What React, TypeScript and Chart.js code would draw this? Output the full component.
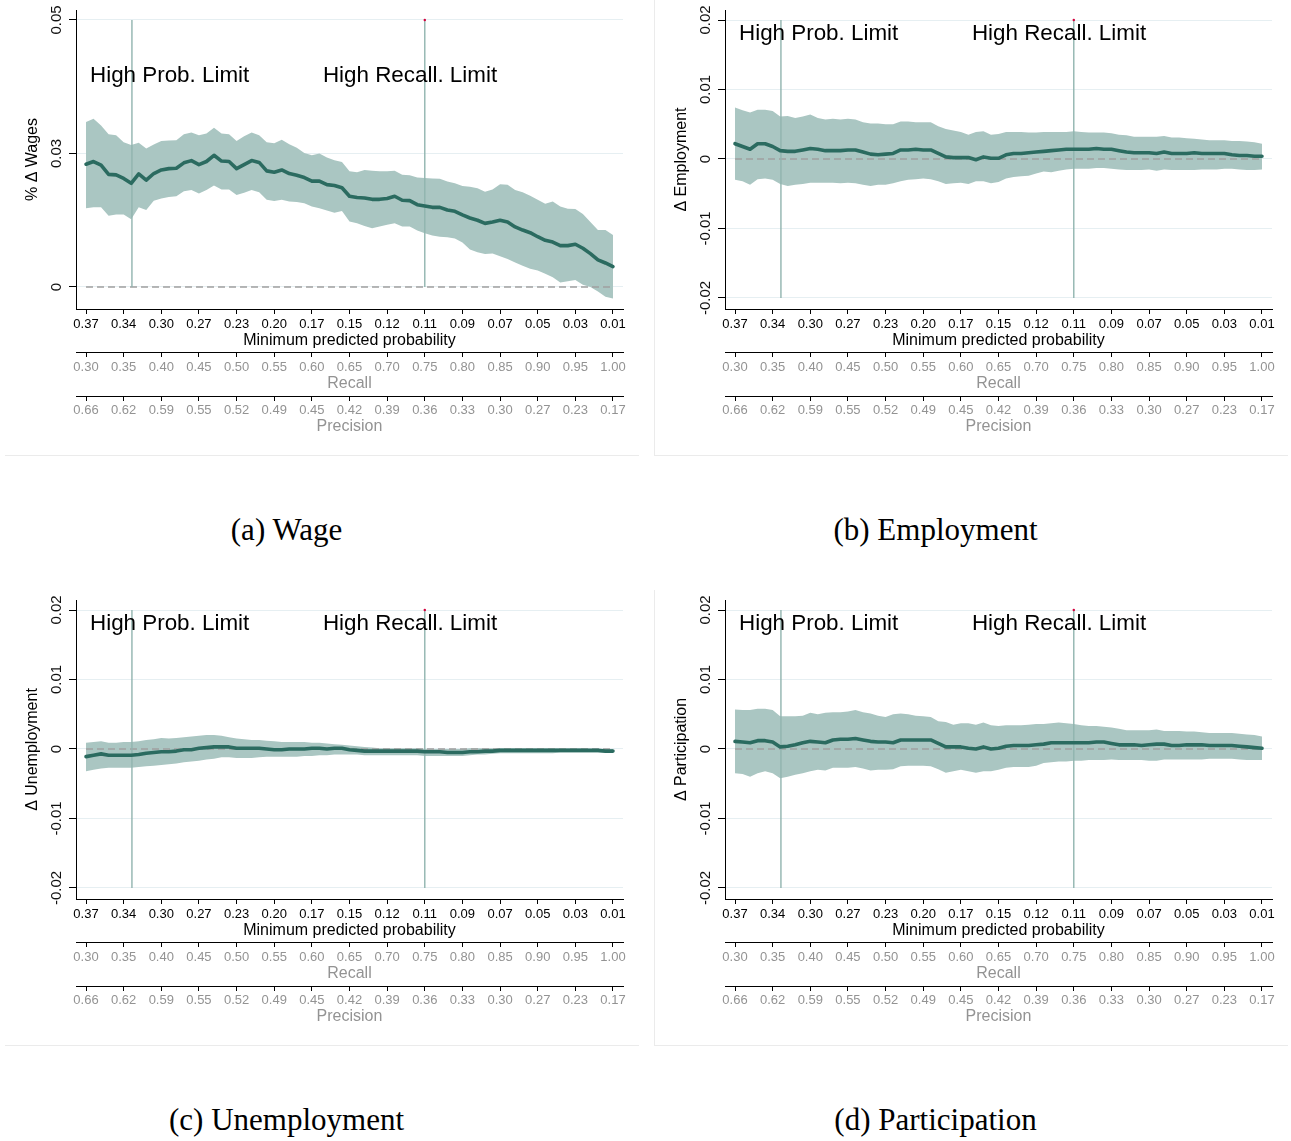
import React, { useEffect, useRef } from "react";
import { Chart, registerables } from "chart.js";

Chart.register(...registerables);

const FONT = "'Liberation Sans', Arial, Helvetica, sans-serif";

// x positions (recall grid)
const RECALL = [
  0.30, 0.31, 0.32, 0.33, 0.34, 0.35, 0.36, 0.37, 0.38, 0.39,
  0.40, 0.41, 0.42, 0.43, 0.44, 0.45, 0.46, 0.47, 0.48, 0.49,
  0.50, 0.51, 0.52, 0.53, 0.54, 0.55, 0.56, 0.57, 0.58, 0.59,
  0.60, 0.61, 0.62, 0.63, 0.64, 0.65, 0.66, 0.67, 0.68, 0.69,
  0.70, 0.71, 0.72, 0.73, 0.74, 0.75, 0.76, 0.77, 0.78, 0.79,
  0.80, 0.81, 0.82, 0.83, 0.84, 0.85, 0.86, 0.87, 0.88, 0.89,
  0.90, 0.91, 0.92, 0.93, 0.94, 0.95, 0.96, 0.97, 0.98, 0.99,
  1.00,
];

const RECALL_TICK_VALUES = [0.30, 0.35, 0.40, 0.45, 0.50, 0.55, 0.60, 0.65, 0.70, 0.75, 0.80, 0.85, 0.90, 0.95, 1.00];
const PROB_TICK_LABELS = ["0.37", "0.34", "0.30", "0.27", "0.23", "0.20", "0.17", "0.15", "0.12", "0.11", "0.09", "0.07", "0.05", "0.03", "0.01"];
const RECALL_TICK_LABELS = ["0.30", "0.35", "0.40", "0.45", "0.50", "0.55", "0.60", "0.65", "0.70", "0.75", "0.80", "0.85", "0.90", "0.95", "1.00"];
const PRECISION_TICK_LABELS = ["0.66", "0.62", "0.59", "0.55", "0.52", "0.49", "0.45", "0.42", "0.39", "0.36", "0.33", "0.30", "0.27", "0.23", "0.17"];

const Y_TICKS_WAGE = [0, 0.03, 0.06];
const Y_LABELS_WAGE = ["0", "0.03", "0.05"];
const Y_TICKS_DELTA = [-0.02, -0.01, 0, 0.01, 0.02];
const Y_LABELS_DELTA = ["-0.02", "-0.01", "0", "0.01", "0.02"];

const LIMIT_LABELS = ["High Prob. Limit", "High Recall. Limit"];
const LIMIT_X = [0.361, 0.75];
const LIMIT_LABEL_X = [0.3053, 0.6147];

// (a) Wage
const WAGE_MEAN = [
  0.0276, 0.0282, 0.0274, 0.0253, 0.0252, 0.0244, 0.0233, 0.0254, 0.0240, 0.0255,
  0.0263, 0.0266, 0.0267, 0.0279, 0.0284, 0.0275, 0.0282, 0.0296, 0.0283, 0.0282,
  0.0266, 0.0275, 0.0284, 0.0280, 0.0261, 0.0258, 0.0263, 0.0255, 0.0251, 0.0246,
  0.0238, 0.0238, 0.0230, 0.0228, 0.0223, 0.0204, 0.0201, 0.0200, 0.0197, 0.0197,
  0.0199, 0.0204, 0.0195, 0.0194, 0.0185, 0.0182, 0.0179, 0.0179, 0.0173, 0.0170,
  0.0162, 0.0155, 0.0150, 0.0143, 0.0146, 0.0150, 0.0146, 0.0135, 0.0128, 0.0122,
  0.0113, 0.0105, 0.0101, 0.0093, 0.0093, 0.0096, 0.0087, 0.0075, 0.0061, 0.0054,
  0.0046,
];
const WAGE_HI = [
  0.0371, 0.0378, 0.0363, 0.0343, 0.0341, 0.0325, 0.0319, 0.0324, 0.0311, 0.0320,
  0.0328, 0.0329, 0.0330, 0.0343, 0.0347, 0.0341, 0.0345, 0.0358, 0.0345, 0.0343,
  0.0328, 0.0339, 0.0347, 0.0341, 0.0325, 0.0323, 0.0331, 0.0321, 0.0313, 0.0301,
  0.0296, 0.0300, 0.0291, 0.0285, 0.0281, 0.0260, 0.0258, 0.0263, 0.0261, 0.0260,
  0.0260, 0.0261, 0.0252, 0.0251, 0.0246, 0.0245, 0.0244, 0.0243, 0.0237, 0.0233,
  0.0227, 0.0225, 0.0222, 0.0214, 0.0219, 0.0231, 0.0230, 0.0218, 0.0213, 0.0205,
  0.0196, 0.0187, 0.0192, 0.0181, 0.0176, 0.0175, 0.0164, 0.0146, 0.0128, 0.0128,
  0.0117,
];
const WAGE_LO = [
  0.0177, 0.0179, 0.0179, 0.0160, 0.0163, 0.0163, 0.0152, 0.0179, 0.0173, 0.0194,
  0.0199, 0.0202, 0.0204, 0.0215, 0.0218, 0.0210, 0.0218, 0.0228, 0.0219, 0.0219,
  0.0207, 0.0212, 0.0218, 0.0213, 0.0196, 0.0193, 0.0196, 0.0192, 0.0191, 0.0188,
  0.0181, 0.0177, 0.0172, 0.0167, 0.0171, 0.0147, 0.0143, 0.0137, 0.0132, 0.0136,
  0.0140, 0.0143, 0.0136, 0.0136, 0.0127, 0.0121, 0.0116, 0.0113, 0.0112, 0.0109,
  0.0100, 0.0084, 0.0078, 0.0074, 0.0075, 0.0069, 0.0063, 0.0055, 0.0048, 0.0041,
  0.0037, 0.0030, 0.0022, 0.0010, 0.0013, 0.0016, 0.0005, 0.0000, -0.0010, -0.0022,
  -0.0026,
];

// (b) Employment
const EMP_MEAN = [
  0.0022, 0.0018, 0.0014, 0.0022, 0.0022, 0.0018, 0.0012, 0.0011, 0.0011, 0.0013,
  0.0015, 0.0014, 0.0012, 0.0012, 0.0012, 0.0013, 0.0013, 0.0010, 0.0007, 0.0006,
  0.0007, 0.0008, 0.0013, 0.0013, 0.0014, 0.0013, 0.0013, 0.0008, 0.0003, 0.0002,
  0.0002, 0.0002, -0.0001, 0.0003, 0.0001, 0.0001, 0.0006, 0.0008, 0.0008, 0.0009,
  0.0010, 0.0011, 0.0012, 0.0013, 0.0014, 0.0014, 0.0014, 0.0014, 0.0015, 0.0014,
  0.0014, 0.0012, 0.0010, 0.0009, 0.0009, 0.0009, 0.0008, 0.0010, 0.0008, 0.0008,
  0.0008, 0.0009, 0.0008, 0.0008, 0.0008, 0.0008, 0.0006, 0.0005, 0.0005, 0.0004,
  0.0004,
];
const EMP_HI = [
  0.0074, 0.0070, 0.0067, 0.0071, 0.0071, 0.0069, 0.0061, 0.0062, 0.0059, 0.0061,
  0.0064, 0.0059, 0.0057, 0.0058, 0.0057, 0.0058, 0.0057, 0.0053, 0.0051, 0.0051,
  0.0050, 0.0050, 0.0054, 0.0054, 0.0053, 0.0053, 0.0053, 0.0047, 0.0043, 0.0041,
  0.0039, 0.0035, 0.0039, 0.0040, 0.0035, 0.0036, 0.0039, 0.0039, 0.0039, 0.0038,
  0.0038, 0.0039, 0.0039, 0.0039, 0.0039, 0.0040, 0.0039, 0.0038, 0.0038, 0.0038,
  0.0037, 0.0035, 0.0034, 0.0032, 0.0032, 0.0032, 0.0032, 0.0033, 0.0031, 0.0031,
  0.0030, 0.0029, 0.0028, 0.0027, 0.0027, 0.0027, 0.0026, 0.0026, 0.0025, 0.0024,
  0.0022,
];
const EMP_LO = [
  -0.0030, -0.0032, -0.0037, -0.0029, -0.0028, -0.0030, -0.0036, -0.0039, -0.0037, -0.0036,
  -0.0034, -0.0034, -0.0034, -0.0034, -0.0035, -0.0034, -0.0035, -0.0037, -0.0039, -0.0037,
  -0.0037, -0.0035, -0.0032, -0.0030, -0.0029, -0.0028, -0.0029, -0.0032, -0.0036, -0.0035,
  -0.0034, -0.0036, -0.0032, -0.0032, -0.0035, -0.0033, -0.0028, -0.0026, -0.0025, -0.0024,
  -0.0021, -0.0018, -0.0019, -0.0017, -0.0015, -0.0014, -0.0014, -0.0014, -0.0013, -0.0013,
  -0.0014, -0.0015, -0.0016, -0.0016, -0.0016, -0.0015, -0.0017, -0.0015, -0.0016, -0.0016,
  -0.0016, -0.0016, -0.0015, -0.0015, -0.0015, -0.0014, -0.0014, -0.0015, -0.0016, -0.0016,
  -0.0015,
];

// (c) Unemployment
const UNEMP_MEAN = [
  -0.0011, -0.0009, -0.0007, -0.0009, -0.0009, -0.0009, -0.0009, -0.0008, -0.0006, -0.0005,
  -0.0004, -0.0004, -0.0003, -0.0001, -0.0001, 0.0001, 0.0002, 0.0003, 0.0003, 0.0003,
  0.0001, 0.0001, 0.0001, 0.0001, 0.0000, -0.0001, -0.0001, 0.0000, 0.0000, 0.0000,
  0.0001, 0.0001, 0.0000, 0.0001, 0.0001, -0.0001, -0.0002, -0.0003, -0.0003, -0.0003,
  -0.0003, -0.0003, -0.0003, -0.0003, -0.0003, -0.0004, -0.0004, -0.0004, -0.0005, -0.0005,
  -0.0005, -0.0004, -0.0004, -0.0003, -0.0003, -0.0002, -0.0002, -0.0002, -0.0002, -0.0002,
  -0.0002, -0.0002, -0.0002, -0.0002, -0.0002, -0.0002, -0.0002, -0.0002, -0.0002, -0.0003,
  -0.0003,
];
const UNEMP_HI = [
  0.0009, 0.0010, 0.0011, 0.0009, 0.0009, 0.0010, 0.0010, 0.0011, 0.0013, 0.0014,
  0.0016, 0.0015, 0.0016, 0.0017, 0.0018, 0.0019, 0.0020, 0.0020, 0.0019, 0.0017,
  0.0015, 0.0014, 0.0013, 0.0013, 0.0012, 0.0011, 0.0010, 0.0010, 0.0010, 0.0010,
  0.0009, 0.0009, 0.0008, 0.0007, 0.0006, 0.0005, 0.0004, 0.0003, 0.0002, 0.0001,
  0.0001, 0.0001, 0.0001, 0.0001, 0.0001, 0.0000, 0.0000, 0.0000, 0.0000, 0.0000,
  0.0000, 0.0001, 0.0001, 0.0001, 0.0001, 0.0001, 0.0001, 0.0001, 0.0001, 0.0001,
  0.0001, 0.0001, 0.0001, 0.0001, 0.0001, 0.0001, 0.0001, 0.0000, 0.0000, 0.0000,
  0.0000,
];
const UNEMP_LO = [
  -0.0032, -0.0030, -0.0028, -0.0027, -0.0027, -0.0027, -0.0027, -0.0026, -0.0025, -0.0024,
  -0.0023, -0.0022, -0.0021, -0.0019, -0.0018, -0.0017, -0.0015, -0.0014, -0.0012, -0.0012,
  -0.0013, -0.0013, -0.0013, -0.0012, -0.0011, -0.0011, -0.0011, -0.0011, -0.0011, -0.0010,
  -0.0010, -0.0009, -0.0009, -0.0008, -0.0008, -0.0008, -0.0008, -0.0009, -0.0009, -0.0009,
  -0.0009, -0.0009, -0.0009, -0.0009, -0.0009, -0.0010, -0.0010, -0.0010, -0.0010, -0.0010,
  -0.0010, -0.0009, -0.0008, -0.0008, -0.0007, -0.0006, -0.0006, -0.0006, -0.0006, -0.0006,
  -0.0006, -0.0006, -0.0006, -0.0005, -0.0005, -0.0005, -0.0005, -0.0005, -0.0005, -0.0005,
  -0.0005,
];

// (d) Participation
const PART_MEAN = [
  0.0011, 0.0010, 0.0009, 0.0012, 0.0012, 0.0010, 0.0003, 0.0004, 0.0006, 0.0009,
  0.0011, 0.0010, 0.0009, 0.0013, 0.0014, 0.0014, 0.0015, 0.0013, 0.0011, 0.0010,
  0.0010, 0.0009, 0.0013, 0.0013, 0.0013, 0.0013, 0.0013, 0.0008, 0.0003, 0.0003,
  0.0003, 0.0001, 0.0000, 0.0003, 0.0000, 0.0001, 0.0004, 0.0005, 0.0005, 0.0005,
  0.0006, 0.0007, 0.0009, 0.0009, 0.0009, 0.0009, 0.0009, 0.0009, 0.0010, 0.0010,
  0.0008, 0.0006, 0.0006, 0.0006, 0.0005, 0.0006, 0.0007, 0.0007, 0.0005, 0.0005,
  0.0006, 0.0006, 0.0006, 0.0005, 0.0005, 0.0005, 0.0005, 0.0004, 0.0003, 0.0002,
  0.0001,
];
const PART_HI = [
  0.0057, 0.0056, 0.0056, 0.0058, 0.0058, 0.0056, 0.0047, 0.0047, 0.0047, 0.0048,
  0.0052, 0.0050, 0.0052, 0.0053, 0.0053, 0.0054, 0.0056, 0.0053, 0.0051, 0.0048,
  0.0046, 0.0050, 0.0051, 0.0050, 0.0048, 0.0047, 0.0046, 0.0040, 0.0039, 0.0035,
  0.0037, 0.0037, 0.0035, 0.0038, 0.0034, 0.0033, 0.0034, 0.0034, 0.0034, 0.0035,
  0.0036, 0.0036, 0.0037, 0.0038, 0.0037, 0.0036, 0.0034, 0.0033, 0.0033, 0.0032,
  0.0031, 0.0029, 0.0027, 0.0027, 0.0027, 0.0027, 0.0028, 0.0026, 0.0026, 0.0026,
  0.0025, 0.0025, 0.0024, 0.0023, 0.0023, 0.0023, 0.0023, 0.0022, 0.0021, 0.0020,
  0.0018,
];
const PART_LO = [
  -0.0035, -0.0036, -0.0040, -0.0035, -0.0032, -0.0035, -0.0042, -0.0040, -0.0037, -0.0035,
  -0.0032, -0.0030, -0.0031, -0.0027, -0.0027, -0.0027, -0.0026, -0.0028, -0.0031, -0.0030,
  -0.0030, -0.0029, -0.0025, -0.0024, -0.0024, -0.0024, -0.0025, -0.0029, -0.0034, -0.0032,
  -0.0030, -0.0032, -0.0034, -0.0032, -0.0032, -0.0030, -0.0027, -0.0026, -0.0026, -0.0026,
  -0.0024, -0.0020, -0.0019, -0.0018, -0.0018, -0.0017, -0.0017, -0.0016, -0.0016, -0.0016,
  -0.0015, -0.0016, -0.0016, -0.0016, -0.0016, -0.0017, -0.0017, -0.0015, -0.0015, -0.0015,
  -0.0015, -0.0015, -0.0015, -0.0014, -0.0014, -0.0014, -0.0014, -0.0015, -0.0016, -0.0016,
  -0.0016,
];

const BAND = "#aac6c2";
const LINE = "#2b6b60";
const VLINE = "#90b4af";
const GRID = "#e6eff2";
const GRAY = "#939393";

const X_MIN = 0.2867;
const X_MAX = 1.0133;

type PanelProps = {
  mean: number[];
  hi: number[];
  lo: number[];
  yTicks: number[];
  yLabels: string[];
  yMin: number;
  yMax: number;
  yTitle: string;
  labelY: number;
  left: number;
  top: number;
  leftFrame: boolean;
};

function Panel(p: PanelProps) {
  const ref = useRef<HTMLCanvasElement | null>(null);
  useEffect(() => {
    if (!ref.current) return;
    const pts = (arr: number[]) => RECALL.map((x, i) => ({ x, y: arr[i] }));
    const yBot = p.yTicks[0];
    const yTop = p.yTicks[p.yTicks.length - 1];

    const overlay = {
      id: "overlay",
      afterDraw(chart: any) {
        const ctx = chart.ctx;
        const ys = chart.scales.y;
        const xs = chart.scales.x;
        const ca = chart.chartArea;
        ctx.save();
        ctx.fillStyle = "#111";
        ctx.font = `15px ${FONT}`;
        ctx.textAlign = "center";
        ctx.textBaseline = "middle";
        p.yTicks.forEach((v, i) => {
          const py = ys.getPixelForValue(v);
          ctx.save();
          ctx.translate(ca.left - 19, py);
          ctx.rotate(-Math.PI / 2);
          ctx.fillText(p.yLabels[i], 0, 0);
          ctx.restore();
        });
        ctx.font = `22.4px ${FONT}`;
        ctx.textAlign = "left";
        ctx.fillStyle = "#000";
        LIMIT_LABELS.forEach((t, i) => {
          ctx.fillText(t, xs.getPixelForValue(LIMIT_LABEL_X[i]), ys.getPixelForValue(p.labelY));
        });
        ctx.strokeStyle = "#ebebeb";
        ctx.lineWidth = 1;
        ctx.beginPath();
        ctx.moveTo(5, 455.5);
        ctx.lineTo(chart.width - 1, 455.5);
        if (p.leftFrame) {
          ctx.moveTo(5.5, 0);
          ctx.lineTo(5.5, 455.5);
        }
        ctx.stroke();
        ctx.restore();
      },
    };

    const xAxis = (weight: number, height: number, labels: string[], color: string, title: string, tickPad: number, padBottom: number) => ({
      type: "linear",
      position: "bottom",
      min: X_MIN,
      max: X_MAX,
      weight,
      afterBuildTicks: (s: any) => {
        s.ticks = RECALL_TICK_VALUES.map((v) => ({ value: v }));
      },
      afterFit: (s: any) => {
        s.height = height;
      },
      grid: { display: true, drawOnChartArea: false, drawTicks: true, tickLength: 5, tickColor: "#000", tickWidth: 1 },
      border: { display: true, color: "#000", width: 1 },
      ticks: {
        autoSkip: false,
        maxRotation: 0,
        minRotation: 0,
        padding: tickPad,
        color,
        font: { family: FONT, size: 13, lineHeight: 1.2 },
        callback: (_v: any, i: number) => labels[i],
      },
      title: {
        display: true,
        text: title,
        color,
        font: { family: FONT, size: 16, lineHeight: 1 },
        padding: { top: 0, bottom: padBottom },
      },
    });

    const chart = new Chart(ref.current, {
      type: "line",
      data: {
        datasets: [
          {
            label: "mean",
            data: pts(p.mean),
            borderColor: LINE,
            borderWidth: 3.6,
            pointRadius: 0,
            tension: 0,
            fill: false,
            borderJoinStyle: "round",
            borderCapStyle: "round",
            order: 1,
          },
          {
            label: "prob limit",
            data: [
              { x: LIMIT_X[0], y: yBot },
              { x: LIMIT_X[0], y: yTop },
            ],
            borderColor: VLINE,
            borderWidth: 1.4,
            pointRadius: 0,
            fill: false,
            order: 2,
          },
          {
            label: "recall limit",
            data: [
              { x: LIMIT_X[1], y: yBot },
              { x: LIMIT_X[1], y: yTop },
            ],
            borderColor: VLINE,
            borderWidth: 1.4,
            pointRadius: [0, 1.2],
            pointBackgroundColor: "#d4003c",
            pointBorderWidth: 0,
            fill: false,
            order: 2,
          },
          {
            label: "zero",
            data: [
              { x: RECALL[0], y: 0 },
              { x: RECALL[RECALL.length - 1], y: 0 },
            ],
            borderColor: "#a0a0a0",
            borderWidth: 1.3,
            borderDash: [7, 4],
            pointRadius: 0,
            fill: false,
            order: 3,
          },
          {
            label: "upper",
            data: pts(p.hi),
            borderColor: "rgba(0,0,0,0)",
            borderWidth: 0,
            pointRadius: 0,
            backgroundColor: BAND,
            fill: "+1",
            tension: 0,
            order: 4,
          },
          {
            label: "lower",
            data: pts(p.lo),
            borderColor: "rgba(0,0,0,0)",
            borderWidth: 0,
            pointRadius: 0,
            fill: false,
            tension: 0,
            order: 5,
          },
        ],
      },
      options: {
        animation: false,
        responsive: false,
        maintainAspectRatio: false,
        devicePixelRatio: 1,
        layout: { padding: { left: 0, top: 10, right: 17, bottom: 24 } },
        plugins: { legend: { display: false }, tooltip: { enabled: false } },
        scales: {
          x: xAxis(0, 43, PROB_TICK_LABELS, "#000", "Minimum predicted probability", 3, 3),
          x2: xAxis(1, 44, RECALL_TICK_LABELS, GRAY, "Recall", 3, 4),
          x3: xAxis(2, 40, PRECISION_TICK_LABELS, GRAY, "Precision", 2, 1),
          y: {
            type: "linear",
            position: "left",
            min: p.yMin,
            max: p.yMax,
            afterBuildTicks: (s: any) => {
              s.ticks = p.yTicks.map((v) => ({ value: v }));
            },
            afterFit: (s: any) => {
              s.width = 76;
            },
            grid: { color: GRID, lineWidth: 1, drawTicks: true, tickLength: 7, tickColor: "#000", tickWidth: 1 },
            border: { display: true, color: "#000", width: 1 },
            ticks: { display: false },
            title: {
              display: true,
              text: p.yTitle,
              color: "#000",
              font: { family: FONT, size: 16, lineHeight: 1 },
              padding: { top: 25, bottom: 0 },
            },
          },
        },
      } as any,
      plugins: [overlay],
    } as any);
    return () => chart.destroy();
  }, []);
  return (
    <canvas
      ref={ref}
      width={640}
      height={460}
      style={{ position: "absolute", left: p.left, top: p.top, width: 640, height: 460, display: "block" }}
    />
  );
}

const captionStyle = (cx: number, cy: number): React.CSSProperties => ({
  position: "absolute",
  left: cx - 200,
  top: cy - 18,
  width: 400,
  height: 36,
  lineHeight: "36px",
  textAlign: "center",
  fontFamily: "'Liberation Serif', 'Times New Roman', serif",
  fontSize: 31,
  color: "#000",
});

export default function App() {
  return (
    <div style={{ position: "absolute", left: 0, top: 0, width: 1291, height: 1141, overflow: "hidden", background: "#fff" }}>
      <Panel mean={WAGE_MEAN} hi={WAGE_HI} lo={WAGE_LO} yTicks={Y_TICKS_WAGE} yLabels={Y_LABELS_WAGE}
        yMin={-0.004944} yMax={0.062247} yTitle="% Δ Wages" labelY={0.0474} left={0} top={0} leftFrame={false} />
      <Panel mean={EMP_MEAN} hi={EMP_HI} lo={EMP_LO} yTicks={Y_TICKS_DELTA} yLabels={Y_LABELS_DELTA}
        yMin={-0.021583} yMax={0.021439} yTitle="Δ Employment" labelY={0.0180} left={649} top={0} leftFrame={true} />
      <Panel mean={UNEMP_MEAN} hi={UNEMP_HI} lo={UNEMP_LO} yTicks={Y_TICKS_DELTA} yLabels={Y_LABELS_DELTA}
        yMin={-0.021583} yMax={0.021439} yTitle="Δ Unemployment" labelY={0.0180} left={0} top={590} leftFrame={false} />
      <Panel mean={PART_MEAN} hi={PART_HI} lo={PART_LO} yTicks={Y_TICKS_DELTA} yLabels={Y_LABELS_DELTA}
        yMin={-0.021583} yMax={0.021439} yTitle="Δ Participation" labelY={0.0180} left={649} top={590} leftFrame={true} />
      <div style={captionStyle(286.5, 530)}>(a) Wage</div>
      <div style={captionStyle(935.5, 530)}>(b) Employment</div>
      <div style={captionStyle(286.5, 1120)}>(c) Unemployment</div>
      <div style={captionStyle(935.5, 1120)}>(d) Participation</div>
    </div>
  );
}
